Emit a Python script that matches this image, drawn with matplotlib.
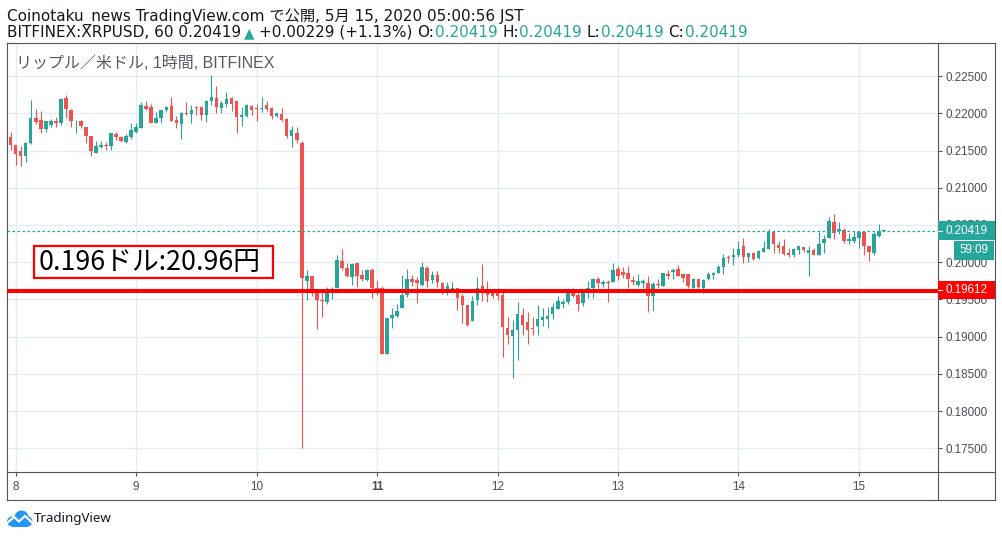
import numpy as np
import pandas as pd
import matplotlib
matplotlib.use("Agg")
import matplotlib.pyplot as plt
import matplotlib.dates as mdates
from matplotlib.patches import Rectangle, Circle
from matplotlib.lines import Line2D
from matplotlib import font_manager

plt.rcParams['font.family'] = ['Liberation Sans', 'Noto Sans CJK JP', 'DejaVu Sans']

# ---------------- data (hourly candles, BITFINEX XRP/USD) ----------------
start_time = "2020-05-07 23:00"
opens = [0.2168, 0.2157, 0.2150, 0.2142, 0.2160, 0.2193, 0.2191, 0.2179, 0.2184, 0.2190,
         0.2187, 0.2221, 0.2205, 0.2189, 0.2189, 0.2181, 0.2170, 0.2147, 0.2155, 0.2157,
         0.2156, 0.2172, 0.2168, 0.2162, 0.2168, 0.2175, 0.2180, 0.2210, 0.2208, 0.2187,
         0.2193, 0.2204, 0.2210, 0.2191, 0.2185, 0.2201, 0.2199, 0.2209, 0.2209, 0.2198,
         0.2216, 0.2220, 0.2207, 0.2212, 0.2220, 0.2216, 0.2195, 0.2197, 0.2210, 0.2207,
         0.2206, 0.2211, 0.2207, 0.2197, 0.2199, 0.2192, 0.2170, 0.2174, 0.2160, 0.1975,
         0.1982, 0.1959, 0.1949, 0.1946, 0.1959, 0.1965, 0.2002, 0.1992, 0.1980, 0.1999,
         0.1983, 0.1976, 0.1990, 0.1966, 0.1965, 0.1877, 0.1925, 0.1928, 0.1938, 0.1956,
         0.1978, 0.1976, 0.1969, 0.1992, 0.1976, 0.1983, 0.1972, 0.1959, 0.1964, 0.1965,
         0.1955, 0.1943, 0.1921, 0.1949, 0.1968, 0.1961, 0.1960, 0.1958, 0.1956, 0.1911,
         0.1901, 0.1909, 0.1929, 0.1920, 0.1912, 0.1914, 0.1922, 0.1924, 0.1930, 0.1937,
         0.1944, 0.1947, 0.1960, 0.1956, 0.1945, 0.1963, 0.1965, 0.1977, 0.1971, 0.1973,
         0.1973, 0.1991, 0.1987, 0.1986, 0.1976, 0.1969, 0.1972, 0.1972, 0.1954, 0.1971,
         0.1968, 0.1984, 0.1987, 0.1991, 0.1984, 0.1984, 0.1966, 0.1977, 0.1966, 0.1977,
         0.1983, 0.1986, 0.1993, 0.2007, 0.2007, 0.2010, 0.2022, 0.2007, 0.2012, 0.2005,
         0.2014, 0.2018, 0.2041, 0.2023, 0.2022, 0.2013, 0.2009, 0.2016, 0.2020, 0.2013,
         0.2017, 0.2010, 0.2026, 0.2033, 0.2054, 0.2042, 0.2043, 0.2029, 0.2028, 0.2033,
         0.2040, 0.2022, 0.2013, 0.2035, 0.20419]
highs = [0.2175, 0.2158, 0.2156, 0.2162, 0.2218, 0.2206, 0.2203, 0.2190, 0.2192, 0.2195,
         0.2221, 0.2224, 0.2206, 0.2191, 0.2191, 0.2182, 0.2170, 0.2163, 0.2163, 0.2162,
         0.2174, 0.2175, 0.2170, 0.2172, 0.2187, 0.2187, 0.2215, 0.2216, 0.2213, 0.2202,
         0.2205, 0.2210, 0.2222, 0.2196, 0.2202, 0.2215, 0.2211, 0.2210, 0.2210, 0.2218,
         0.2251, 0.2237, 0.2217, 0.2228, 0.2222, 0.2217, 0.2208, 0.2212, 0.2211, 0.2212,
         0.2222, 0.2216, 0.2209, 0.2201, 0.2207, 0.2193, 0.2183, 0.2182, 0.2163, 0.1990,
         0.1982, 0.1960, 0.1960, 0.1967, 0.1967, 0.2010, 0.2018, 0.1999, 0.1999, 0.1999,
         0.1990, 0.1991, 0.1992, 0.1976, 0.1968, 0.1925, 0.1938, 0.1944, 0.1983, 0.1991,
         0.1983, 0.1980, 0.2000, 0.1995, 0.1988, 0.1988, 0.1973, 0.1973, 0.1973, 0.1966,
         0.1957, 0.1943, 0.1955, 0.1980, 0.1998, 0.1975, 0.1960, 0.1966, 0.1960, 0.1927,
         0.1922, 0.1947, 0.1938, 0.1933, 0.1926, 0.1943, 0.1938, 0.1940, 0.1945, 0.1955,
         0.1951, 0.1966, 0.1966, 0.1959, 0.1960, 0.1975, 0.1979, 0.1980, 0.1976, 0.1976,
         0.1999, 0.1995, 0.1993, 0.1995, 0.1981, 0.1984, 0.1978, 0.1981, 0.1974, 0.1977,
         0.1986, 0.1990, 0.1992, 0.1996, 0.1984, 0.1984, 0.1979, 0.1977, 0.1977, 0.1987,
         0.1987, 0.1996, 0.2011, 0.2009, 0.2019, 0.2028, 0.2033, 0.2012, 0.2014, 0.2016,
         0.2029, 0.2044, 0.2042, 0.2028, 0.2031, 0.2019, 0.2019, 0.2022, 0.2020, 0.2022,
         0.2019, 0.2040, 0.2037, 0.2061, 0.2065, 0.2054, 0.2046, 0.2039, 0.2042, 0.2041,
         0.2040, 0.2022, 0.2041, 0.2051, 0.20419]
lows = [0.2151, 0.2131, 0.2129, 0.2135, 0.2159, 0.2186, 0.2174, 0.2175, 0.2181, 0.2181,
        0.2184, 0.2194, 0.2181, 0.2173, 0.2180, 0.2160, 0.2143, 0.2146, 0.2153, 0.2151,
        0.2151, 0.2164, 0.2161, 0.2160, 0.2165, 0.2173, 0.2180, 0.2204, 0.2187, 0.2187,
        0.2187, 0.2202, 0.2189, 0.2180, 0.2166, 0.2198, 0.2187, 0.2198, 0.2191, 0.2188,
        0.2211, 0.2201, 0.2201, 0.2209, 0.2203, 0.2174, 0.2183, 0.2195, 0.2198, 0.2190,
        0.2202, 0.2203, 0.2192, 0.2195, 0.2190, 0.2167, 0.2155, 0.2160, 0.1750, 0.1949,
        0.1954, 0.1910, 0.1927, 0.1944, 0.1951, 0.1965, 0.1990, 0.1980, 0.1969, 0.1967,
        0.1975, 0.1975, 0.1952, 0.1956, 0.1877, 0.1877, 0.1911, 0.1927, 0.1938, 0.1953,
        0.1968, 0.1945, 0.1968, 0.1967, 0.1972, 0.1967, 0.1957, 0.1956, 0.1963, 0.1936,
        0.1918, 0.1914, 0.1921, 0.1943, 0.1948, 0.1946, 0.1952, 0.1949, 0.1873, 0.1890,
        0.1845, 0.1869, 0.1902, 0.1890, 0.1902, 0.1902, 0.1914, 0.1912, 0.1924, 0.1937,
        0.1939, 0.1944, 0.1953, 0.1934, 0.1941, 0.1952, 0.1952, 0.1966, 0.1967, 0.1947,
        0.1973, 0.1976, 0.1979, 0.1965, 0.1969, 0.1967, 0.1965, 0.1933, 0.1935, 0.1966,
        0.1968, 0.1977, 0.1977, 0.1982, 0.1974, 0.1966, 0.1966, 0.1966, 0.1959, 0.1976,
        0.1978, 0.1985, 0.1984, 0.1999, 0.1996, 0.2007, 0.1999, 0.2000, 0.2003, 0.2004,
        0.2014, 0.2018, 0.2012, 0.2013, 0.2010, 0.2007, 0.2007, 0.2011, 0.2014, 0.1981,
        0.2009, 0.2010, 0.2013, 0.2033, 0.2031, 0.2038, 0.2026, 0.2025, 0.2026, 0.2019,
        0.2009, 0.2002, 0.2010, 0.2034, 0.20419]
closes = [0.2157, 0.2145, 0.2143, 0.2160, 0.2193, 0.2188, 0.2179, 0.2189, 0.2189, 0.2187,
          0.2219, 0.2206, 0.2189, 0.2190, 0.2183, 0.2170, 0.2149, 0.2156, 0.2157, 0.2156,
          0.2173, 0.2168, 0.2163, 0.2170, 0.2178, 0.2181, 0.2211, 0.2206, 0.2187, 0.2193,
          0.2204, 0.2209, 0.2190, 0.2187, 0.2201, 0.2199, 0.2204, 0.2207, 0.2198, 0.2216,
          0.2222, 0.2209, 0.2214, 0.2219, 0.2213, 0.2195, 0.2198, 0.2211, 0.2204, 0.2206,
          0.2207, 0.2206, 0.2197, 0.2201, 0.2191, 0.2170, 0.2177, 0.2164, 0.1979, 0.1982,
          0.1959, 0.1949, 0.1948, 0.1960, 0.1960, 0.2003, 0.1992, 0.1981, 0.1998, 0.1982,
          0.1977, 0.1990, 0.1965, 0.1959, 0.1877, 0.1925, 0.1929, 0.1935, 0.1956, 0.1977,
          0.1973, 0.1972, 0.1993, 0.1975, 0.1983, 0.1974, 0.1958, 0.1968, 0.1966, 0.1952,
          0.1942, 0.1916, 0.1948, 0.1965, 0.1960, 0.1956, 0.1955, 0.1954, 0.1913, 0.1902,
          0.1909, 0.1930, 0.1916, 0.1909, 0.1910, 0.1924, 0.1927, 0.1928, 0.1940, 0.1948,
          0.1946, 0.1960, 0.1955, 0.1944, 0.1959, 0.1966, 0.1977, 0.1972, 0.1974, 0.1972,
          0.1990, 0.1982, 0.1983, 0.1977, 0.1974, 0.1975, 0.1975, 0.1954, 0.1971, 0.1970,
          0.1985, 0.1982, 0.1990, 0.1982, 0.1979, 0.1968, 0.1978, 0.1967, 0.1976, 0.1984,
          0.1986, 0.1994, 0.2006, 0.2005, 0.2010, 0.2018, 0.2007, 0.2012, 0.2004, 0.2015,
          0.2019, 0.2040, 0.2024, 0.2019, 0.2011, 0.2009, 0.2018, 0.2022, 0.2016, 0.2017,
          0.2010, 0.2024, 0.2031, 0.2055, 0.2039, 0.2045, 0.2029, 0.2031, 0.2034, 0.2040,
          0.2022, 0.2014, 0.2038, 0.20419, 0.20419]

day_labels = ["8", "9", "10", "11", "12", "13", "14", "15"]
bold_day = "11"
price_ticks = [0.175, 0.180, 0.185, 0.190, 0.195, 0.200, 0.205, 0.210, 0.215, 0.220, 0.225]
last_price = 0.20419
support_price = 0.19612
countdown = "59:09"
annotation_text = "0.196ドル:20.96円"
chart_title = "リップル／米ドル, 1時間, BITFINEX"
header_line1 = "Coinotaku_news TradingView.com で公開, 5月 15, 2020 05:00:56 JST"
header_symbol = "BITFINEX:XRPUSD, 60 0.20419"
header_change = "+0.00229 (+1.13%)"
ohlc_names = ["O:", "H:", "L:", "C:"]
ohlc_values = ["0.20419", "0.20419", "0.20419", "0.20419"]

# ---------------- style ----------------
GREEN = "#26a69a"
RED = "#ef5350"
LINE_RED = "#ff0000"
FRAME = "#50535e"
GRID = "#e4ecf2"
TXT = "#131722"
AXTXT = "#4a4d57"
HDR_FAMILY = ["DejaVu Sans", "Noto Sans CJK JP"]

installed = {f.name for f in font_manager.fontManager.ttflist}
if "Liberation Sans Narrow" in installed:
    AX_FAMILY, AX_SIZE = ["Liberation Sans Narrow"], 9.4
else:
    AX_FAMILY, AX_SIZE = ["Liberation Sans"], 8.4

W, H = 1002, 537
fig = plt.figure(figsize=(W / 100, H / 100), dpi=100)
fig.patch.set_facecolor("white")


def fx(x):
    return x / W


def fy(y):
    return 1 - y / H


L_, R_, T_, B_ = 7, 937.7, 42.7, 471.7
ax = fig.add_axes([fx(L_), fy(B_), (R_ - L_) / W, (B_ - T_) / H])

times = pd.date_range(start_time, periods=len(closes), freq="h")
xt = mdates.date2num(times.to_pydatetime())
o = np.array(opens)
hi = np.array(highs)
lo = np.array(lows)
c = np.array(closes)
up = c >= o
cols = np.where(up, GREEN, RED)

ax.vlines(xt, lo, hi, colors=cols, lw=0.8, zorder=3)
body_bottom = np.minimum(o, c)
body_h = np.maximum(np.abs(c - o), 0.00009)
ax.bar(xt, body_h, bottom=body_bottom, width=0.7 / 24, color=cols, lw=0, zorder=4)

day0 = mdates.date2num(pd.Timestamp("2020-05-08").to_pydatetime())
ax.set_xlim(day0 - 1.73 / 24, day0 + 183.7 / 24)
ax.set_ylim(0.17186, 0.22948)

ax.set_xticks([day0 + k for k in range(len(day_labels))])
ax.set_xticklabels(day_labels)
ax.yaxis.tick_right()
ax.set_yticks(price_ticks)
ax.set_yticklabels([f"{v:.5f}" for v in price_ticks])
ax.tick_params(axis="both", length=2.9, width=0.8, color=FRAME, labelcolor=AXTXT, labelsize=AX_SIZE)
ax.tick_params(axis="y", pad=2.9)
ax.tick_params(axis="x", pad=4.0)
for t in ax.get_xticklabels() + ax.get_yticklabels():
    t.set_family(AX_FAMILY)
for t in ax.get_xticklabels():
    if t.get_text() == bold_day:
        t.set_fontweight("bold")
ax.grid(True, color=GRID, lw=1.0)
ax.set_axisbelow(True)
for s in ax.spines.values():
    s.set_color(FRAME)
    s.set_linewidth(0.8)

# last price dotted line and support line
ax.axhline(last_price, color=GREEN, lw=0.9, ls=(0, (2, 2)), zorder=5)
ax.axhline(support_price, color=LINE_RED, lw=2.9, zorder=6)

# chart title inside
ax.text((16.5 - L_) / (R_ - L_), 1 - (63.5 - T_) / (B_ - T_), chart_title,
        transform=ax.transAxes, fontsize=11.5, color="#575a63", va="center", ha="left")

# ---------------- outer frame lines ----------------
frame_segments = [((R_, T_), (995, T_)), ((995, T_), (995, 500)), ((L_, 500), (995, 500)),
                  ((L_, B_), (L_, 500)), ((R_, B_), (R_, 500)), ((R_, B_), (995, B_))]
for (x0, y0), (x1, y1) in frame_segments:
    fig.add_artist(Line2D([fx(x0), fx(x1)], [fy(y0), fy(y1)], color=FRAME, lw=0.8,
                          transform=fig.transFigure))

# ---------------- price labels on axis ----------------
def axis_box(y0, y1, x0, x1, color):
    fig.add_artist(Rectangle((fx(x0), fy(y1)), (x1 - x0) / W, (y1 - y0) / H,
                             transform=fig.transFigure, facecolor=color, edgecolor="none",
                             zorder=10))

axis_box(221, 240, R_, 995, GREEN)
fig.text(fx(945.7), fy(230.5), f"{last_price:.5f}", color="white", fontsize=AX_SIZE,
         family=AX_FAMILY, va="center", ha="left", zorder=11)
fig.add_artist(Line2D([fx(R_), fx(941.7)], [fy(230.5), fy(230.5)], color="white", lw=0.8,
                      transform=fig.transFigure, zorder=11))
axis_box(241, 260, 954, 994, GREEN)
fig.text(fx(974), fy(250.5), countdown, color="white", fontsize=AX_SIZE,
         family=AX_FAMILY, va="center", ha="center", zorder=11)
axis_box(281, 299.3, R_, 995, LINE_RED)
fig.text(fx(945.7), fy(290.2), f"{support_price:.5f}", color="white", fontsize=AX_SIZE,
         family=AX_FAMILY, va="center", ha="left", zorder=11)
fig.add_artist(Line2D([fx(R_), fx(941.7)], [fy(290.2), fy(290.2)], color="white", lw=0.8,
                      transform=fig.transFigure, zorder=11))

# ---------------- annotation box ----------------
fig.add_artist(Rectangle((fx(34.3), fy(278.3)), (272.7 - 34.3) / W, (278.3 - 245.7) / H,
                         transform=fig.transFigure, facecolor="white", edgecolor=LINE_RED,
                         lw=1.6, zorder=12))
fig.text(fx(149.5), fy(262.5), annotation_text, color="black", fontsize=19.3,
         family=["Noto Sans CJK JP", "DejaVu Sans"], va="center", ha="center", zorder=13)

# ---------------- header ----------------
renderer = fig.canvas.get_renderer()
HDR_SIZE = 10.95


def draw_runs(x_px, base_px, runs):
    x = x_px
    for text, color, size, gap in runs:
        x += gap
        t = fig.text(fx(x), fy(base_px), text, color=color, fontsize=size,
                     family=HDR_FAMILY, va="baseline", ha="left")
        x += t.get_window_extent(renderer).width


fig.text(fx(7), fy(20.3), header_line1, color=TXT, fontsize=HDR_SIZE, family=HDR_FAMILY,
         va="baseline", ha="left")
sp = 4.7
runs = [(header_symbol, TXT, HDR_SIZE, 0), ("▲", GREEN, 9.8, 3), (header_change, TXT, HDR_SIZE, sp)]
for name, val in zip(ohlc_names, ohlc_values):
    runs.append((name, TXT, HDR_SIZE, sp))
    runs.append((val, GREEN, HDR_SIZE, 0.5))
draw_runs(7, 36.9, runs)

# ---------------- TradingView logo ----------------
lax = fig.add_axes([fx(6), fy(527), 27 / W, 17 / H])
lax.set_xlim(0, 27)
lax.set_ylim(0, 17)
lax.axis("off")
BLUE = "#2196f3"
for (cx, cy, r) in [(6.0, 5.5, 5.0), (15.5, 9.5, 7.0), (21.5, 5.5, 5.0)]:
    lax.add_patch(Circle((cx, cy), r, color=BLUE, lw=0))
lax.add_patch(Rectangle((6, 0.5), 15.5, 6, color=BLUE, lw=0))
lax.plot([0.5, 8, 13, 19, 26.5], [3.5, 10, 5.5, 11, 4], color="white", lw=1.6,
         solid_capstyle="butt", solid_joinstyle="miter")
fig.text(fx(33.5), fy(518.5), "TradingView", color=TXT, fontsize=9.6, family=["Noto Sans"],
         va="center", ha="left")

fig.savefig("out.png", dpi=100, facecolor="white")
